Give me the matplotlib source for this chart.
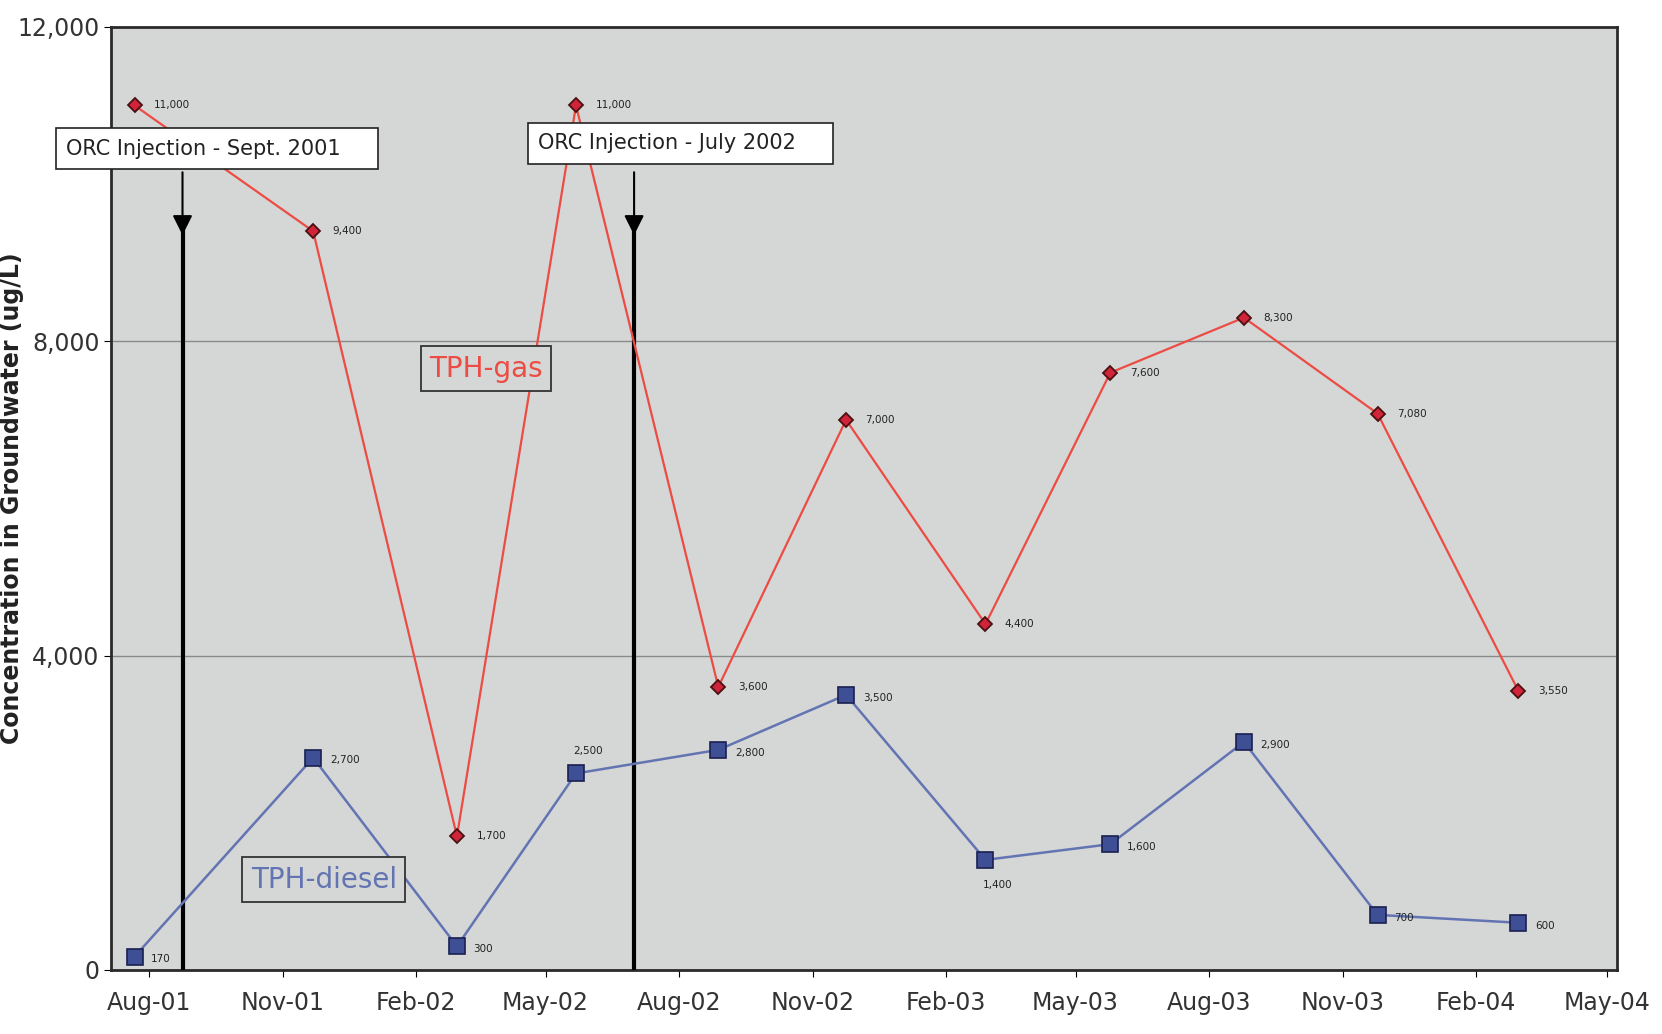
import datetime as dt

import matplotlib
matplotlib.use("Agg")
import matplotlib.pyplot as plt
import matplotlib.dates as mdates

# sampling dates
dates = [
    "2001-07-22", "2001-11-22", "2002-03-01", "2002-05-22", "2002-08-28",
    "2002-11-24", "2003-02-28", "2003-05-25", "2003-08-25", "2003-11-25",
    "2004-03-01",
]
tph_gas = [11000, 9400, 1700, 11000, 3600, 7000, 4400, 7600, 8300, 7080, 3550]
tph_diesel = [170, 2700, 300, 2500, 2800, 3500, 1400, 1600, 2900, 700, 600]

injection_dates = ["2001-08-24", "2002-07-01"]
injection_labels = ["ORC Injection - Sept. 2001", "ORC Injection - July 2002"]

tick_dates = ["2001-08-01", "2001-11-01", "2002-02-01", "2002-05-01", "2002-08-01",
              "2002-11-01", "2003-02-01", "2003-05-01", "2003-08-01", "2003-11-01",
              "2004-02-01", "2004-05-01"]
y_ticks = [0, 4000, 8000, 12000]

to_d = lambda s: dt.datetime.strptime(s, "%Y-%m-%d")
x = [to_d(s) for s in dates]

GAS = "#ec4c43"
DIESEL = "#6374b2"
BG = "#d5d6d6"

fig = plt.figure(figsize=(16.62, 10.34), dpi=100)
ax = fig.add_axes([0.067, 0.062, 0.906, 0.912])
ax.set_facecolor(BG)

ax.plot(x, tph_gas, color=GAS, lw=1.6, marker="D", ms=7, mfc="#d0243a",
        mec="#4a1010", mew=1.3, zorder=4)
ax.plot(x, tph_diesel, color=DIESEL, lw=1.8, marker="s", ms=11, mfc="#3f4f96",
        mec="#1a2050", mew=1.2, zorder=4)

# data labels: mostly to the right of each marker
def fmt(v):
    return f"{v:,}"

gas_off = [(14, 0)] * len(tph_gas)
diesel_off = [(12, -2)] * len(tph_diesel)
diesel_off[3] = (-2, 16)   # 2,500 above
diesel_off[6] = (-2, -18)  # 1,400 below
for xi, v, (dx, dy) in zip(x, tph_gas, gas_off):
    ax.annotate(fmt(v), (xi, v), xytext=(dx, dy), textcoords="offset points",
                fontsize=7.5, va="center", ha="left", color="#222222", zorder=5)
for xi, v, (dx, dy) in zip(x, tph_diesel, diesel_off):
    ax.annotate(fmt(v), (xi, v), xytext=(dx, dy), textcoords="offset points",
                fontsize=7.5, va="center", ha="left", color="#222222", zorder=5)

# injection markers: arrow down from the label, heavy vertical line to the axis
box_y = [10450, 10520]
for s in injection_dates:
    d = to_d(s)
    ax.plot([d, d], [0, 9450], color="black", lw=3, zorder=3, solid_capstyle="butt")
    ax.annotate("", xy=(d, 9350), xytext=(d, 10150),
                arrowprops=dict(arrowstyle="-|>", color="black", lw=1.5,
                                mutation_scale=30, shrinkA=0, shrinkB=0),
                zorder=6, annotation_clip=False)
box_kw = dict(boxstyle="square,pad=0.5", fc="white", ec="#222222", lw=1.2)
box_x = ["2001-06-05", "2002-04-26"]
for bx, by, lab in zip(box_x, box_y, injection_labels):
    ax.text(to_d(bx), by, lab + "    ", fontsize=15, color="#222222",
            va="center", ha="left", bbox=box_kw, zorder=7, clip_on=False)

ax.text(to_d("2002-02-10"), 7650, "TPH-gas", fontsize=20, color=GAS, va="center",
        ha="left", zorder=7,
        bbox=dict(boxstyle="square,pad=0.3", fc=BG, ec="#333333", lw=1.3))
ax.text(to_d("2001-10-10"), 1150, "TPH-diesel", fontsize=20, color=DIESEL, va="center",
        ha="left", zorder=7,
        bbox=dict(boxstyle="square,pad=0.3", fc=BG, ec="#333333", lw=1.3))

ax.set_ylim(0, 12000)
ax.set_xlim(to_d("2001-07-06"), to_d("2004-05-08"))
ax.set_yticks(y_ticks)
ax.set_yticklabels([fmt(v) for v in y_ticks], fontsize=17, color="#333333")
ax.set_xticks([to_d(s) for s in tick_dates])
ax.xaxis.set_major_formatter(mdates.DateFormatter("%b-%y"))
ax.tick_params(axis="x", labelsize=17, labelcolor="#333333", length=5, pad=10)
ax.tick_params(axis="y", length=5)
ax.yaxis.grid(True, color="#8a8a8a", lw=1.0)
ax.set_axisbelow(True)
for sp in ax.spines.values():
    sp.set_color("#2a2a2a")
    sp.set_linewidth(2)

ax.set_ylabel("Concentration in Groundwater (ug/L)", fontsize=17, fontweight="bold",
              family="Liberation Sans Narrow", color="#222222")
ax.yaxis.set_label_coords(-0.058, 0.5)

fig.savefig("out.png", dpi=100, facecolor="white")
